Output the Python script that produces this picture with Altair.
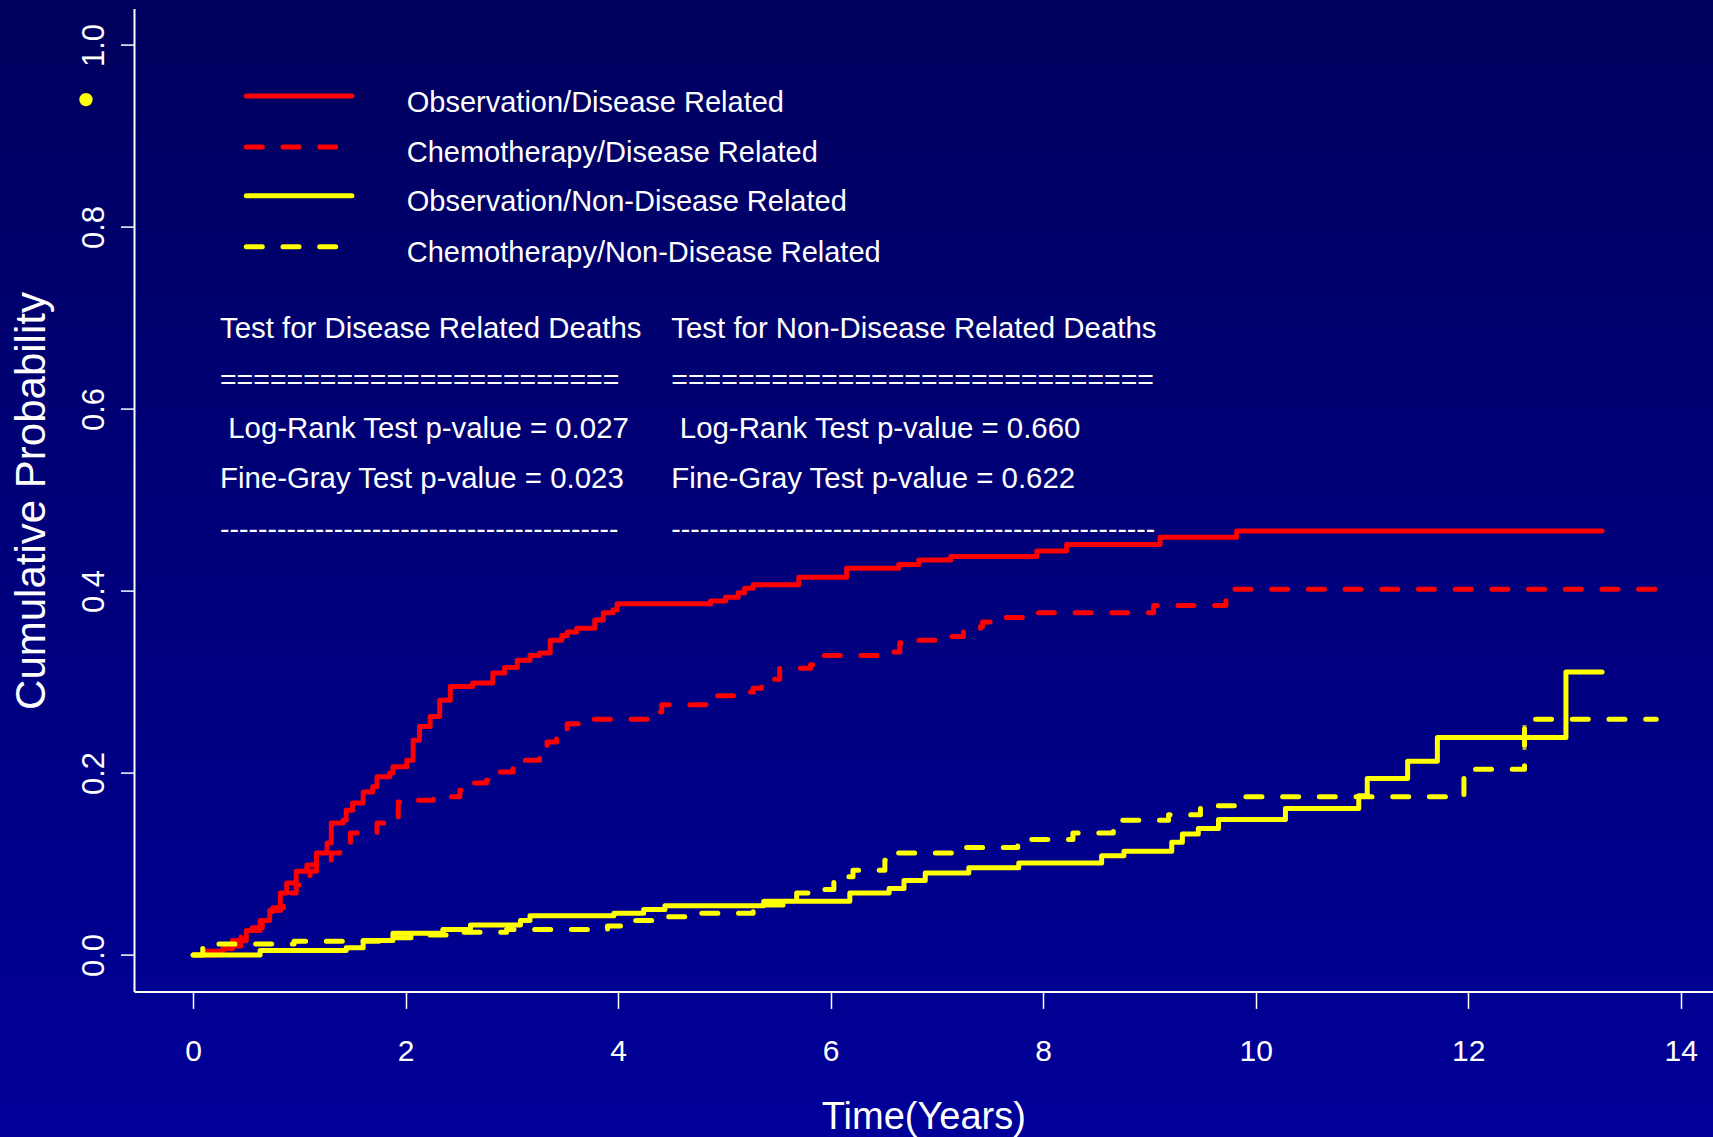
import altair as alt
import pandas as pd

# ---- cumulative incidence curves (time in years, cumulative probability) ----
obs_dis_t = [0, 0.12, 0.28, 0.37, 0.50, 0.63, 0.72, 0.82, 0.88, 0.97, 1.07, 1.16, 1.26, 1.30,
             1.41, 1.44, 1.50, 1.60, 1.69, 1.73, 1.85, 1.88, 2.01, 2.07, 2.13, 2.23, 2.32, 2.42,
             2.63, 2.82, 2.93, 3.05, 3.17, 3.26, 3.36, 3.47, 3.52, 3.61, 3.78, 3.86, 3.95, 3.99,
             4.87, 5.01, 5.13, 5.19, 5.27, 5.70, 6.15, 6.64, 6.83, 7.13, 7.94, 8.22, 9.10, 9.82,
             13.26]
obs_dis_p = [0, 0.004, 0.007, 0.016, 0.027, 0.038, 0.049, 0.068, 0.079, 0.092, 0.099, 0.112,
             0.123, 0.145, 0.148, 0.159, 0.167, 0.179, 0.185, 0.196, 0.200, 0.207, 0.214, 0.236,
             0.251, 0.262, 0.280, 0.295, 0.299, 0.310, 0.316, 0.324, 0.329, 0.332, 0.346, 0.351,
             0.355, 0.359, 0.368, 0.376, 0.379, 0.386, 0.389, 0.393, 0.398, 0.403, 0.407, 0.415,
             0.425, 0.429, 0.434, 0.438, 0.444, 0.451, 0.459, 0.466, 0.466]

chemo_dis_t = [0, 0.20, 0.35, 0.45, 0.55, 0.65, 0.75, 0.85, 0.91, 0.97, 1.10, 1.16, 1.30, 1.38,
               1.48, 1.73, 1.83, 1.93, 2.07, 2.26, 2.51, 2.61, 2.76, 2.86, 3.01, 3.10, 3.26, 3.33,
               3.42, 3.52, 3.74, 4.30, 4.41, 4.87, 5.20, 5.27, 5.35, 5.52, 5.81, 5.87, 6.58, 6.65,
               6.72, 7.06, 7.25, 7.41, 7.43, 7.61, 7.82, 9.04, 9.72, 9.80, 13.78]
chemo_dis_p = [0, 0.003, 0.010, 0.020, 0.030, 0.040, 0.052, 0.062, 0.068, 0.077, 0.092, 0.100,
               0.112, 0.120, 0.134, 0.145, 0.151, 0.168, 0.170, 0.174, 0.181, 0.189, 0.192, 0.201,
               0.211, 0.214, 0.225, 0.234, 0.245, 0.254, 0.259, 0.267, 0.275, 0.285, 0.289, 0.293,
               0.303, 0.315, 0.319, 0.329, 0.333, 0.343, 0.346, 0.350, 0.357, 0.361, 0.366, 0.371,
               0.376, 0.384, 0.394, 0.402, 0.402]

obs_nondis_t = [0, 0.63, 1.44, 1.60, 1.88, 2.35, 2.61, 3.08, 3.17, 3.96, 4.24, 4.44, 5.37, 6.18,
                6.55, 6.69, 6.89, 7.30, 7.77, 8.55, 8.76, 9.21, 9.31, 9.46, 9.65, 10.28, 10.97,
                11.05, 11.43, 11.71, 12.92, 13.26]
obs_nondis_p = [0, 0.005, 0.008, 0.016, 0.024, 0.028, 0.033, 0.038, 0.043, 0.046, 0.050, 0.054,
                0.059, 0.068, 0.073, 0.082, 0.090, 0.096, 0.101, 0.109, 0.114, 0.124, 0.133,
                0.139, 0.149, 0.161, 0.175, 0.194, 0.213, 0.239, 0.311, 0.311]

chemo_nondis_t = [0, 0.09, 0.13, 0.95, 1.75, 2.05, 2.55, 2.95, 3.90, 4.14, 4.46, 4.77, 5.27, 5.38,
                  5.68, 5.83, 6.03, 6.21, 6.51, 6.58, 7.25, 7.76, 7.83, 8.28, 8.66, 9.18, 9.48,
                  9.84, 11.96, 12.53, 13.77]
chemo_nondis_p = [0, 0.009, 0.012, 0.015, 0.019, 0.022, 0.025, 0.028, 0.032, 0.038, 0.042, 0.046,
                  0.051, 0.055, 0.068, 0.072, 0.086, 0.093, 0.104, 0.112, 0.118, 0.123, 0.127,
                  0.134, 0.148, 0.154, 0.164, 0.174, 0.204, 0.259, 0.259]

# censored observation on the observation / non-disease curve
censor_t = [12.53]
censor_p = [0.239]

series_names = ["Observation/Disease Related", "Chemotherapy/Disease Related",
                "Observation/Non-Disease Related", "Chemotherapy/Non-Disease Related"]
series_colors = ["#ff0000", "#ff0000", "#ffff00", "#ffff00"]
series_styles = ["solid", "dashed", "solid", "dashed"]
series_t = [obs_dis_t, chemo_dis_t, obs_nondis_t, chemo_nondis_t]
series_p = [obs_dis_p, chemo_dis_p, obs_nondis_p, chemo_nondis_p]
# dash phase per curve (pixels)
series_dash_offset = [0, -13, 0, 0]

# test summary block
test_headers = ["Test for Disease Related Deaths", "Test for Non-Disease Related Deaths"]
logrank_p = ["0.027", "0.660"]
finegray_p = ["0.023", "0.622"]
eq_counts = [24, 29]
dash_counts = [42, 51]

x_ticks = [0, 2, 4, 6, 8, 10, 12, 14]
y_ticks = [0.0, 0.2, 0.4, 0.6, 0.8, 1.0]

# ---- layout constants ----
W, H = 1579, 982.8
PAD = {"left": 134, "top": 8.6, "right": 0, "bottom": 145.6}
X_DOMAIN = [-0.557, 14.304]
Y_DOMAIN = [-0.04, 1.04]
SANS = "Liberation Sans, Arial, sans-serif"
DASH_RANGE = [[1, 0], [16, 20.7]]

x_enc = alt.X(
    "t:Q",
    scale=alt.Scale(domain=X_DOMAIN, nice=False, zero=False),
    axis=alt.Axis(
        values=x_ticks, format="d", grid=False, title="Time(Years)",
        domainColor="white", domainWidth=2, tickColor="white", tickWidth=1.5, tickSize=17,
        labelColor="white", labelFont=SANS, labelFontSize=30, labelBaseline="alphabetic",
        labelPadding=51.6, labelFlush=False, labelOverlap=False,
        titleColor="white", titleFont=SANS, titleFontSize=38, titleFontWeight="normal",
        titleBaseline="alphabetic", titleAlign="center", titleX=789.3, titleY=136.6,
        zindex=1,
    ),
)
y_enc = alt.Y(
    "p:Q",
    scale=alt.Scale(domain=Y_DOMAIN, nice=False, zero=False),
    axis=alt.Axis(
        values=y_ticks, format=".1f", grid=False, title="Cumulative Probability",
        domainColor="white", domainWidth=2, tickColor="white", tickWidth=1.5, tickSize=13.5,
        labelColor="white", labelFont=SANS, labelFontSize=31, labelAngle=270,
        labelAlign="center", labelBaseline="alphabetic", labelPadding=17.5,
        labelFlush=False, labelOverlap=False,
        titleColor="white", titleFont=SANS, titleFontSize=42, titleFontWeight="normal",
        titleAngle=270, titleBaseline="alphabetic", titleAlign="center",
        titleX=-90, titleY=491.9, zindex=1,
    ),
)
dash_enc = alt.StrokeDash("style:N", scale=alt.Scale(domain=["solid", "dashed"], range=DASH_RANGE),
                          legend=None)

# background panel with a vertical blue gradient
backdrop = alt.Chart(alt.Data(values=[{}])).mark_rect(
    color=alt.LinearGradient(
        gradient="linear", x1=0, x2=0, y1=0, y2=1,
        stops=[alt.GradientStop(color="#00005e", offset=0),
               alt.GradientStop(color="#000099", offset=1)],
    )
).encode(
    x=alt.value(-PAD["left"]), x2=alt.value(W),
    y=alt.value(-PAD["top"]), y2=alt.value(H + PAD["bottom"]),
)

# one step-line layer per curve
curve_layers = []
for name, color, style, ts, ps, off in zip(series_names, series_colors, series_styles,
                                            series_t, series_p, series_dash_offset):
    df = pd.DataFrame({"t": ts, "p": ps, "style": style})
    curve_layers.append(
        alt.Chart(df).mark_line(
            interpolate="step-after", strokeWidth=5, strokeCap="round", strokeJoin="round",
            color=color, strokeDashOffset=off,
        ).encode(x=x_enc, y=y_enc, strokeDash=dash_enc, order="t:Q")
    )

censor = alt.Chart(pd.DataFrame({"t": censor_t, "p": censor_p})).mark_tick(
    orient="vertical", size=25, thickness=4, color="#ffff00"
).encode(x=x_enc, y=y_enc)

# legend: line samples and labels
leg_line_p = [0.944, 0.888, 0.8344, 0.7784]
leg_text_p = [0.9263, 0.8716, 0.8177, 0.7617]
legend_df = pd.DataFrame({
    "t": [0.50] * 4, "t2": [1.494] * 4, "p": leg_line_p,
    "color": series_colors, "style": series_styles,
})
legend_lines = alt.Chart(legend_df).mark_rule(strokeWidth=5, strokeCap="round").encode(
    x=x_enc, x2="t2:Q", y=y_enc,
    color=alt.Color("color:N", scale=None),
    strokeDash=dash_enc,
)
legend_text = alt.Chart(pd.DataFrame({
    "t": [2.01] * 4, "p": leg_text_p, "label": series_names,
})).mark_text(align="left", baseline="alphabetic", font=SANS, fontSize=29, color="white").encode(
    x=x_enc, y=y_enc, text="label:N"
)

# test summary text block (two columns)
col_t = [0.252, 4.50]
col_t_indent = [0.330, 4.58]
block_rows, rule_rows = [], []
for i in range(2):
    block_rows += [
        {"t": col_t[i], "p": 0.6777, "label": test_headers[i]},
        {"t": col_t_indent[i], "p": 0.5678, "label": f"Log-Rank Test p-value = {logrank_p[i]}"},
        {"t": col_t[i], "p": 0.5129, "label": f"Fine-Gray Test p-value = {finegray_p[i]}"},
    ]
    rule_rows += [
        {"t": col_t[i], "p": 0.6218, "label": "=" * eq_counts[i]},
        {"t": col_t[i], "p": 0.4578, "label": "-" * dash_counts[i]},
    ]
block_text = alt.Chart(pd.DataFrame(block_rows)).mark_text(
    align="left", baseline="alphabetic", font=SANS, fontSize=29.4, color="white"
).encode(x=x_enc, y=y_enc, text="label:N")
block_rules = alt.Chart(pd.DataFrame(rule_rows)).mark_text(
    align="left", baseline="alphabetic", font=SANS, fontSize=28.5, color="white"
).encode(x=x_enc, y=y_enc, text="label:N")

# small yellow marker at the upper left
marker = alt.Chart(pd.DataFrame({"t": [-1.009], "p": [0.940]})).mark_point(
    filled=True, size=180, color="#ffff00", opacity=1
).encode(x=x_enc, y=y_enc)

chart = alt.layer(
    backdrop, *curve_layers, censor, legend_lines, legend_text, block_text, block_rules, marker
).properties(
    width=W, height=H, padding=PAD,
    autosize=alt.AutoSizeParams(type="none"),
    background="#00007a",
).configure_view(stroke=None)

chart.save("out.html", embed_options={"renderer": "svg", "actions": False})
